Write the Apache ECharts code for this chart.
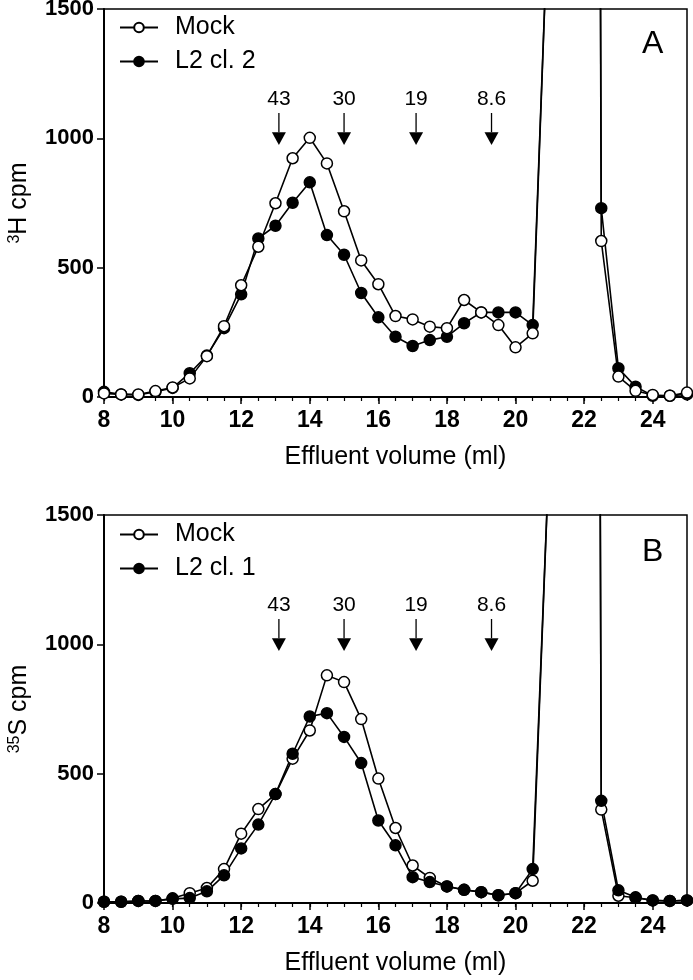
<!DOCTYPE html>
<html><head><meta charset="utf-8">
<script src="https://cdn.jsdelivr.net/npm/echarts@6/dist/echarts.min.js"></script>
<style>html,body{margin:0;padding:0;background:#fff}#c{width:693px;height:980px}</style>
</head><body><div id="c"></div>
<script>
// Effluent volume (ml)
const volume = [8,8.5,9,9.5,10,10.5,11,11.5,12,12.5,13,13.5,14,14.5,15,15.5,16,16.5,17,17.5,18,18.5,19,19.5,20,20.5,21,21.5,22,22.5,23,23.5,24,24.5,25];
// Panel A: 3H cpm
const mockA  = [14,10,10,23,37,72,158,274,432,581,749,923,1002,903,718,528,436,313,300,272,266,375,327,278,192,246,2050,20000,20000,603,79,24,8,5,17];
const l2cl2A = [20,10,8,20,35,92,160,266,397,613,662,751,830,626,550,402,308,233,197,220,233,285,327,327,327,278,2050,20000,20000,730,111,40,5,5,10];
// Panel B: 35S cpm
const mockB  = [5,5,8,8,18,38,58,131,268,363,421,558,667,880,854,711,481,290,145,97,64,51,42,30,38,86,1800,20000,20000,361,28,20,10,8,10];
const l2cl1B = [5,5,8,8,16,19,45,107,211,303,421,577,721,734,642,541,319,223,100,81,64,51,42,30,38,131,1800,20000,20000,395,49,22,10,8,10];
// Molecular mass markers (kDa)
const markerPos = [13.1, 15.0, 17.1, 19.3];
const markerLabels = ['43','30','19','8.6'];
// Tick labels
const xMajorTicks = [8,10,12,14,16,18,20,22,24];
const yTicks = [0,500,1000,1500];

const FONT = 'Liberation Sans, Arial, Helvetica, sans-serif';
const pair = (ys) => volume.map((v,i)=>[v, ys[i]]);

function grids(top){ return {left:104, right:6, top:top, height:388, show:true, borderColor:'#000', borderWidth:1.5, backgroundColor:'transparent', containLabel:false, outerBoundsMode:'none'}; }

function xMain(gi){
  return {type:'value', gridIndex:gi, min:8, max:25, interval:2, position:'bottom', offset:0,
    name:'Effluent volume (ml)', nameLocation:'middle', nameGap:48,
    nameTextStyle:{fontSize:25, color:'#000', fontFamily:FONT},
    axisLine:{show:true, onZero:false, lineStyle:{color:'#000', width:2}},
    axisTick:{show:true, length:7, lineStyle:{color:'#000', width:1.5}, customValues:xMajorTicks},
    axisLabel:{show:true, customValues:xMajorTicks, formatter:(v)=>String(v), fontSize:23, fontWeight:'bold', color:'#000', fontFamily:FONT, margin:12},
    splitLine:{show:false}};
}
function xMinor(gi){
  return {type:'value', gridIndex:gi, min:8, max:25, interval:0.5, position:'bottom', offset:0,
    axisLine:{show:true, onZero:false, lineStyle:{color:'#000', width:2}},
    axisTick:{show:true, length:4, lineStyle:{color:'#000', width:1.2}},
    axisLabel:{show:false}, splitLine:{show:false}};
}
function yAx(gi, label){
  return {type:'value', gridIndex:gi, min:0, max:1500, interval:500, position:'left',
    name:label, nameLocation:'middle', nameRotate:90, nameGap:72,
    nameTextStyle:{fontSize:25, color:'#000', fontFamily:FONT, rich:{sup:{fontSize:16, verticalAlign:'top', fontFamily:FONT, color:'#000'}}},
    axisLine:{show:true, onZero:false, lineStyle:{color:'#000', width:2}},
    axisTick:{show:true, length:7, lineStyle:{color:'#000', width:1.5}},
    axisLabel:{fontSize:22, fontWeight:'bold', color:'#000', fontFamily:FONT, margin:10, formatter:(v)=>String(v)},
    splitLine:{show:false}};
}
function lineSeries(name, data, xi, yi, open){
  return {type:'line', name:name, xAxisIndex:xi, yAxisIndex:yi, data:pair(data),
    symbol:'circle', symbolSize:11, clip:true,
    lineStyle:{color:'#000', width:1.6},
    itemStyle:{color: open ? '#fff' : '#000', borderColor:'#000', borderWidth:1.5},
    emphasis:{disabled:true}, animation:false};
}
function arrowRender(params, api){
  const x = api.value(0);
  const top = api.coord([x, 1098]);
  const triTop = api.coord([x, 1024]);
  const tip = api.coord([x, 974]);
  const lab = api.coord([x, 1150]);
  return {type:'group', children:[
    {type:'line', shape:{x1:top[0], y1:top[1], x2:triTop[0], y2:triTop[1]}, style:{stroke:'#000', lineWidth:1.3}},
    {type:'polygon', shape:{points:[[tip[0]-7, triTop[1]], [tip[0]+7, triTop[1]], [tip[0], tip[1]]]}, style:{fill:'#000'}},
    {type:'text', x:lab[0], y:lab[1], style:{text:markerLabels[params.dataIndex], fontSize:21, fontFamily:FONT, fill:'#000', align:'center', verticalAlign:'middle'}}
  ]};
}
function arrows(xi, yi){
  return {type:'custom', xAxisIndex:xi, yAxisIndex:yi, data:markerPos.map(v=>[v, 1000]), renderItem:arrowRender, silent:true, animation:false};
}
function legendCfg(top, names){
  return {data:names, orient:'vertical', left:114, top:top, itemWidth:38, itemHeight:12, itemGap:9,
    selectedMode:false,
    textStyle:{fontSize:25, color:'#000', fontFamily:FONT, padding:[0,0,0,12]}};
}

const chart = echarts.init(document.getElementById('c'), null, {renderer:'canvas'});
chart.setOption({
  animation:false,
  backgroundColor:'#fff',
  grid:[grids(9), grids(515)],
  xAxis:[xMinor(0), xMain(0), xMinor(1), xMain(1)],
  yAxis:[yAx(0, '{sup|3}H cpm'), yAx(1, '{sup|35}S cpm')],
  legend:[legendCfg(10, ['Mock','L2 cl. 2']), legendCfg(517, ['Mock','L2 cl. 1'])],
  series:[
    lineSeries('L2 cl. 2', l2cl2A, 1, 0, false),
    lineSeries('Mock', mockA, 1, 0, true),
    arrows(1, 0),
    lineSeries('Mock', mockB, 3, 1, true),
    lineSeries('L2 cl. 1', l2cl1B, 3, 1, false),
    arrows(3, 1)
  ],
  graphic:[
    {type:'text', left:642, top:28, style:{text:'A', fontSize:32, fontFamily:FONT, fill:'#000'}},
    {type:'text', left:642, top:536, style:{text:'B', fontSize:32, fontFamily:FONT, fill:'#000'}}
  ]
});
</script></body></html>
